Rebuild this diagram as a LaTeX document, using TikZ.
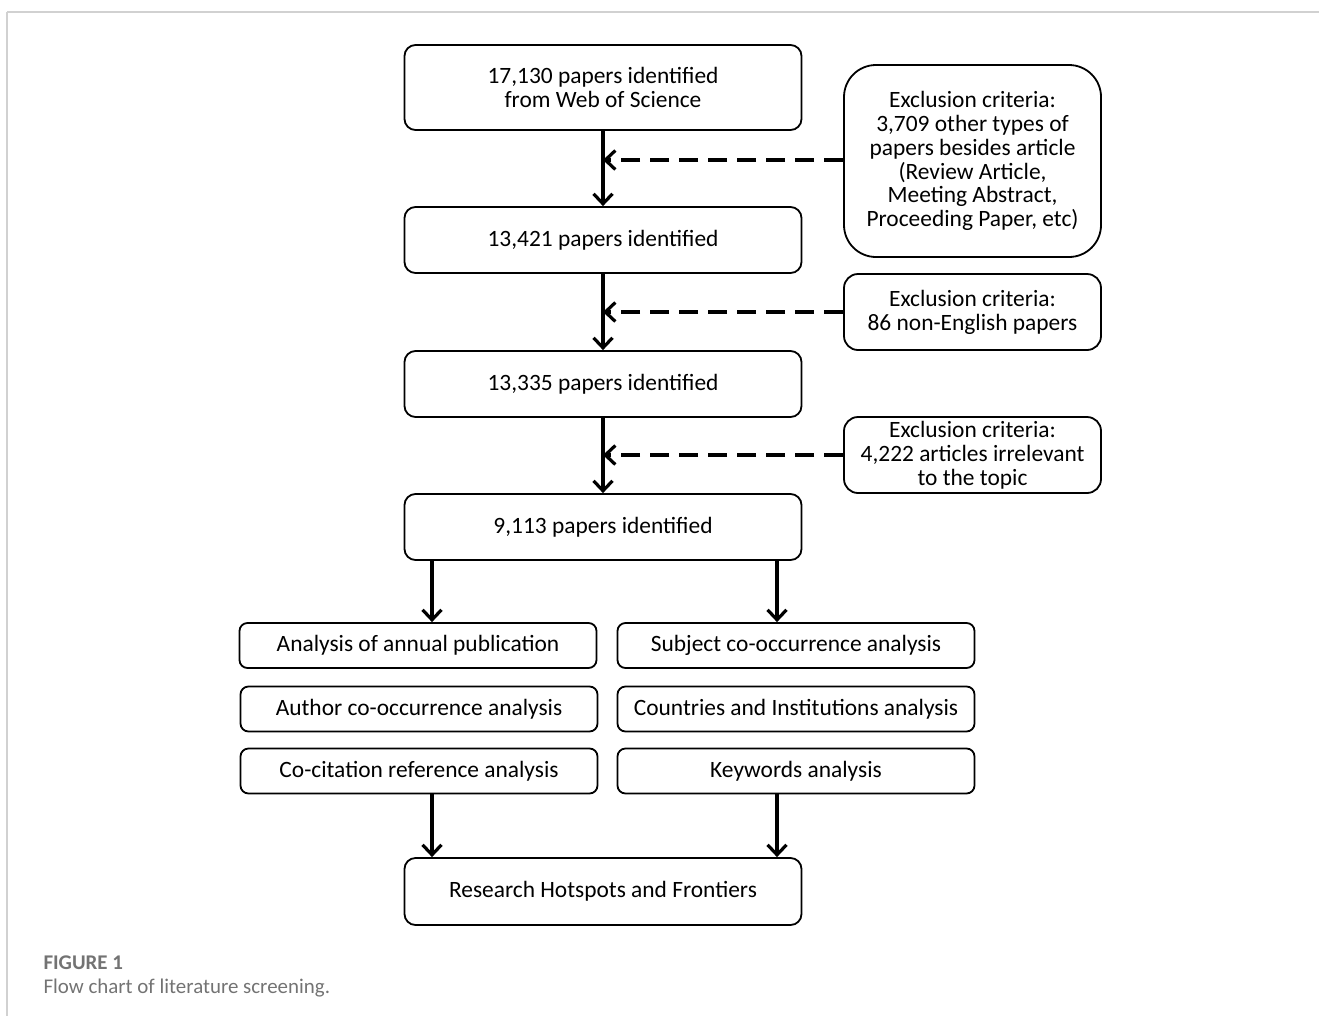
\documentclass[tikz,border=0pt]{standalone}
\usepackage{fontspec}
\setmainfont{Carlito}
\usetikzlibrary{arrows.meta}

\begin{document}
\begin{tikzpicture}[x=1bp, y=-1bp,
    font=\fontsize{23.5}{24}\selectfont,
    stepbox/.style={draw, line width=1.8bp, rounded corners=11bp, align=center,
        inner sep=0pt, minimum width=397bp, minimum height=66bp},
    exbox/.style={draw, line width=1.8bp, rounded corners=14bp, align=center,
        inner sep=0pt, minimum width=257bp, minimum height=76bp},
    subbox/.style={draw, line width=1.8bp, rounded corners=8bp, align=center,
        inner sep=0pt, minimum width=357bp, minimum height=45bp},
    flow/.style={line width=3.4bp, -{Straight Barb[length=10bp, width=19bp, line width=3.2bp]}},
    skip/.style={flow, dash pattern=on 19bp off 10bp}]
    \useasboundingbox (0,0) rectangle (1319,1016);
    % frame
    \draw[black!18, line width=1.2bp] (7,12) -- (1319,12);
    \draw[black!18, line width=1.2bp] (7,12) -- (7,1016);

    % main column
    \node[stepbox, minimum height=85bp] (found) at (603,87.5) {17,130 papers identified\\from Web of Science};
    \node[stepbox] (lang) at (603,240) {13,421 papers identified};
    \node[stepbox] (topic) at (603,384) {13,335 papers identified};
    \node[stepbox] (kept) at (603,527) {9,113 papers identified};

    % exclusions
    \node[exbox, minimum height=192bp, rounded corners=32bp] (exA) at (972.5,161) {Exclusion criteria:\\3,709 other types of\\papers besides article\\(Review Article,\\Meeting Abstract,\\Proceeding Paper, etc)};
    \node[exbox] (exB) at (972.5,312) {Exclusion criteria:\\86 non-English papers};
    \node[exbox] (exC) at (972.5,455) {Exclusion criteria:\\4,222 articles irrelevant\\to the topic};

    % analyses
    \node[subbox] (annual) at (418,645.5) {Analysis of annual publication};
    \node[subbox] (author) at (419,709) {Author co-occurrence analysis};
    \node[subbox] (cocite) at (419,771) {Co-citation reference analysis};
    \node[subbox] (subject) at (796,645.5) {Subject co-occurrence analysis};
    \node[subbox] (country) at (796,709) {Countries and Institutions analysis};
    \node[subbox] (keyword) at (796,771) {Keywords analysis};

    \node[stepbox, minimum height=67bp] (hot) at (603,891.5) {Research Hotspots and Frontiers};

    % arrows
    \draw[flow] (found) -- (lang);
    \draw[flow] (lang) -- (topic);
    \draw[flow] (topic) -- (kept);
    \draw[skip] (exA.west |- 0,160) -- (603,160);
    \draw[skip] (exB) -- (603,312);
    \draw[skip] (exC) -- (603,455);
    \draw[flow] (432,560) -- (annual.north -| 432,0);
    \draw[flow] (777,560) -- (subject.north -| 777,0);
    \draw[flow] (cocite.south -| 432,0) -- (hot.north -| 432,0);
    \draw[flow] (keyword.south -| 777,0) -- (hot.north -| 777,0);

    % caption
    \node[anchor=base west, text=black!55, font=\fontsize{21}{22}\selectfont\bfseries] (fig) at (40,969) {FIGURE 1};
    \node[anchor=base west, text=black!55, font=\fontsize{21}{22}\selectfont] (cap) at (40,993) {Flow chart of literature screening.};
\end{tikzpicture}
\end{document}
